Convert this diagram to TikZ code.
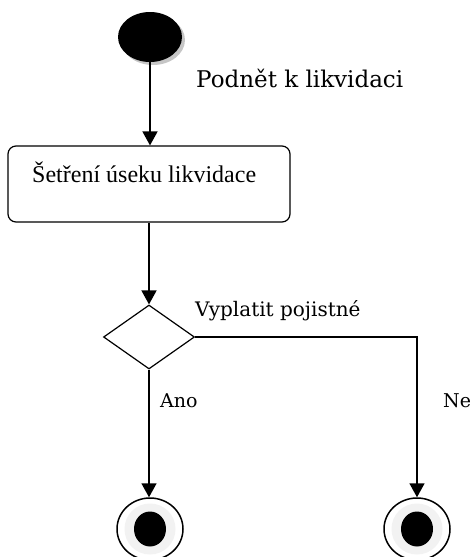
\documentclass[tikz,border=0pt]{standalone}
\usepackage{fontspec}
\setmainfont{Liberation Serif}
\newfontfamily\slab{DejaVu Serif}
\usetikzlibrary{shapes.geometric,arrows.meta,shadows}
\begin{document}
\begin{tikzpicture}[x=1pt,y=-1pt,
  startnode/.style={ellipse, fill=black, minimum width=64pt, minimum height=50pt, inner sep=0pt,
    drop shadow={shadow xshift=3pt, shadow yshift=-3pt, fill=gray!45, opacity=1}},
  actbox/.style={draw, line width=1.2pt, rounded corners=8pt, minimum width=282pt, minimum height=76pt, inner sep=0pt},
  decision/.style={diamond, draw, line width=1.2pt, minimum width=91pt, minimum height=64pt, aspect=1.42, inner sep=0pt},
  endnode/.style={ellipse, draw, line width=1.5pt, fill=white, minimum width=66pt, minimum height=62pt, inner sep=0pt},
  flow/.style={line width=1.6pt, -{Triangle[length=14pt,width=15pt]}},
  lbl/.style={font=\slab\fontsize{19}{22}\selectfont, anchor=base west, inner sep=0pt},
]
\useasboundingbox (0,0) rectangle (470,557);

% initial state
\node[startnode] (start) at (150,37) {};
\node[lbl, font=\slab\fontsize{23}{26}\selectfont] (trig) at (196,87) {Podnět k likvidaci};

% activity
\node[actbox] (check) at (149,184) {};
\node[anchor=base west, inner sep=0pt, font=\fontsize{24}{28}\selectfont] (checktxt) at (32,182) {Šetření úseku likvidace};

% decision
\node[decision] (dec) at (149,337) {};
\node[lbl, font=\slab\fontsize{20}{23}\selectfont] (q) at (195,316) {Vyplatit pojistné};
\node[lbl] (yes) at (160,407) {Ano};
\node[lbl] (no) at (443,407) {Ne};

% final states
\node[endnode] (endL) at (150,529) {};
\node[endnode] (endR) at (417,529) {};
\foreach \e in {endL,endR}{
  \fill[gray!10] (\e) circle (25.5);
  \fill[black] (\e) ellipse [x radius=16, y radius=17.5];
}

% connectors
\draw[flow] (start.south) -- (start.south |- check.north);
\draw[flow] (check.south) -- (dec.north);
\draw[flow] (dec.south) -- (dec.south |- endL.north);
\draw[flow] (dec.east) -| (endR.north);
\end{tikzpicture}
\end{document}
